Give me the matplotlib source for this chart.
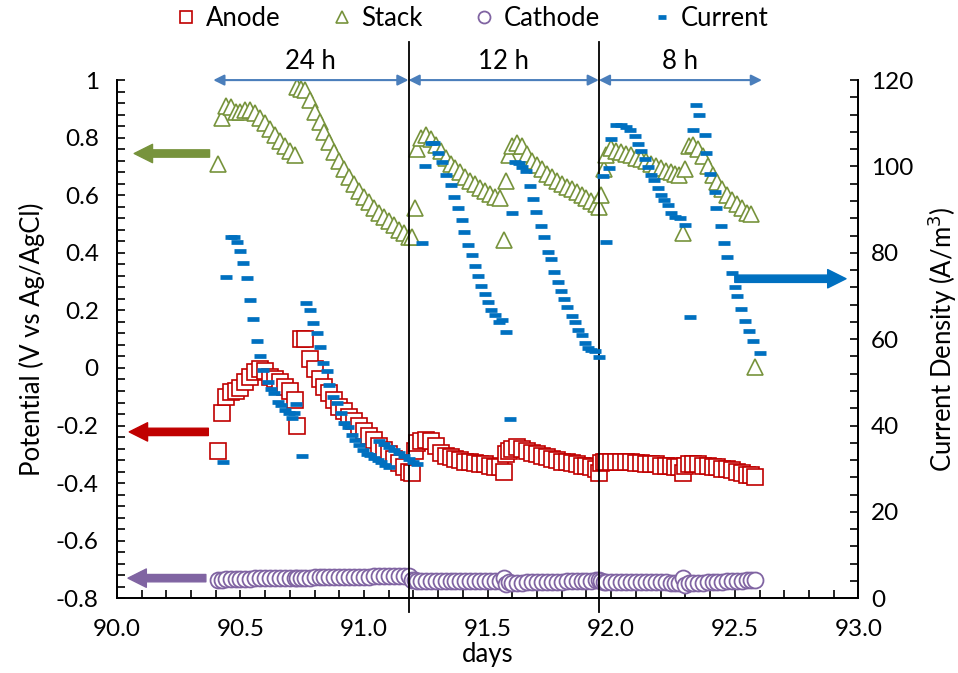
#!/usr/bin/env python3

"""Anode / stack / cathode potentials and current density over three switching periods."""

import matplotlib.pyplot as plt
from matplotlib.ticker import MultipleLocator, FuncFormatter

plt.rcParams['font.family'] = ['Lato', 'DejaVu Sans']

# time stamps (days) shared by the three potential series
pot_days = [
    90.41, 90.425, 90.44, 90.46, 90.48, 90.50, 90.52, 90.54, 90.56, 90.58, 90.60, 90.62, 90.64, 90.66, 90.68, 90.70, 90.72,
    90.73, 90.745, 90.76, 90.78, 90.80, 90.82, 90.84, 90.86, 90.88, 90.90, 90.92, 90.94, 90.96, 90.98, 91.00, 91.02,
    91.04, 91.06, 91.08, 91.10, 91.12, 91.14, 91.16, 91.18,
    91.195, 91.205, 91.215, 91.23, 91.25, 91.27, 91.29, 91.31, 91.33, 91.35, 91.37, 91.39, 91.41, 91.43, 91.45, 91.47,
    91.49, 91.51, 91.53, 91.55, 91.565,
    91.575, 91.585, 91.60, 91.62, 91.64, 91.66, 91.68, 91.70, 91.72, 91.74, 91.76, 91.78, 91.80, 91.82, 91.84, 91.86,
    91.88, 91.90, 91.92, 91.94, 91.95,
    91.96, 91.97, 91.98, 92.00, 92.02, 92.04, 92.06, 92.08, 92.10, 92.12, 92.14, 92.16, 92.18, 92.20, 92.22, 92.24,
    92.26, 92.275, 92.29,
    92.30, 92.315, 92.33, 92.35, 92.37, 92.39, 92.41, 92.43, 92.45, 92.47, 92.49, 92.51, 92.53, 92.55, 92.565, 92.58,
]

anode = [
    -0.29, -0.155, -0.10, -0.085, -0.08, -0.07, -0.05, -0.03, -0.015, -0.005, -0.01, -0.03, -0.04, -0.05, -0.065, -0.08, -0.11,
    -0.20, 0.10, 0.10, 0.03, -0.005, -0.04, -0.065, -0.087, -0.11, -0.135, -0.15, -0.17, -0.185, -0.20, -0.22, -0.235,
    -0.25, -0.27, -0.285, -0.30, -0.315, -0.33, -0.345, -0.36,
    -0.365, -0.29, -0.26, -0.255, -0.25, -0.255, -0.27, -0.295, -0.305, -0.31, -0.315, -0.32, -0.325, -0.325, -0.33, -0.335,
    -0.335, -0.34, -0.345, -0.345, -0.36,
    -0.30, -0.29, -0.28, -0.275, -0.28, -0.29, -0.295, -0.30, -0.305, -0.31, -0.315, -0.32, -0.325, -0.325, -0.33, -0.335,
    -0.34, -0.34, -0.345, -0.35, -0.365,
    -0.33, -0.325, -0.325, -0.325, -0.325, -0.325, -0.325, -0.325, -0.33, -0.33, -0.335, -0.335, -0.335, -0.34, -0.34, -0.34,
    -0.345, -0.345, -0.365,
    -0.34, -0.335, -0.335, -0.335, -0.34, -0.34, -0.345, -0.345, -0.35, -0.35, -0.355, -0.36, -0.365, -0.37, -0.37, -0.38,
]

stack = [
    0.71, 0.87, 0.91, 0.905, 0.89, 0.89, 0.895, 0.895, 0.885, 0.87, 0.85, 0.83, 0.81, 0.79, 0.77, 0.755, 0.74,
    0.975, 0.97, 0.965, 0.93, 0.89, 0.855, 0.82, 0.785, 0.75, 0.72, 0.69, 0.665, 0.64, 0.615, 0.595, 0.575,
    0.555, 0.54, 0.525, 0.51, 0.495, 0.48, 0.47, 0.455,
    0.455, 0.555, 0.76, 0.80, 0.81, 0.795, 0.775, 0.755, 0.73, 0.71, 0.695, 0.68, 0.665, 0.65, 0.64, 0.625,
    0.615, 0.605, 0.595, 0.59, 0.445,
    0.65, 0.74, 0.77, 0.78, 0.77, 0.745, 0.72, 0.705, 0.69, 0.675, 0.665, 0.65, 0.64, 0.63, 0.62, 0.61,
    0.60, 0.59, 0.58, 0.57, 0.56,
    0.60, 0.69, 0.74, 0.765, 0.755, 0.75, 0.745, 0.74, 0.73, 0.725, 0.72, 0.71, 0.70, 0.695, 0.685, 0.68,
    0.675, 0.67, 0.47,
    0.69, 0.77, 0.775, 0.76, 0.735, 0.70, 0.67, 0.645, 0.62, 0.60, 0.585, 0.57, 0.555, 0.54, 0.535, 0.005,
]

cathode = [
    -0.735, -0.735, -0.734, -0.734, -0.733, -0.733, -0.732, -0.732, -0.731, -0.731, -0.730, -0.730, -0.730, -0.729, -0.729, -0.729, -0.728,
    -0.728, -0.728, -0.728, -0.728, -0.727, -0.727, -0.727, -0.727, -0.726, -0.726, -0.726, -0.726, -0.725, -0.725, -0.725, -0.725,
    -0.724, -0.724, -0.724, -0.724, -0.724, -0.723, -0.723, -0.723,
    -0.735, -0.738, -0.739, -0.739, -0.739, -0.739, -0.739, -0.739, -0.740, -0.740, -0.740, -0.740, -0.740, -0.740, -0.740, -0.741,
    -0.741, -0.741, -0.741, -0.741, -0.730,
    -0.752, -0.745, -0.746, -0.746, -0.746, -0.745, -0.745, -0.744, -0.744, -0.743, -0.743, -0.742, -0.742, -0.741, -0.741, -0.740,
    -0.740, -0.739, -0.739, -0.738, -0.738,
    -0.740, -0.742, -0.743, -0.743, -0.743, -0.743, -0.744, -0.744, -0.744, -0.744, -0.744, -0.745, -0.745, -0.745, -0.745, -0.746,
    -0.746, -0.746, -0.730,
    -0.755, -0.748, -0.748, -0.747, -0.746, -0.745, -0.744, -0.743, -0.742, -0.741, -0.740, -0.740, -0.739, -0.738, -0.738, -0.737,
]

# current density (A/m3), right axis
cur_days = [
    90.43, 90.44, 90.46, 90.475, 90.485, 90.497, 90.51, 90.525, 90.54, 90.55, 90.565, 90.58, 90.59, 90.61, 90.625,
    90.635, 90.65, 90.665, 90.68, 90.695, 90.707, 90.715, 90.725, 90.75,
    90.765, 90.78, 90.795, 90.81, 90.82, 90.835, 90.85, 90.86, 90.875, 90.89, 90.905, 90.92, 90.935, 90.95, 90.965,
    90.98, 90.995, 91.01, 91.025, 91.04, 91.055, 91.07, 91.085, 91.10,
    91.06, 91.08, 91.10, 91.12, 91.14, 91.16, 91.18, 91.20, 91.215,
    91.235, 91.245, 91.27, 91.285, 91.30, 91.315, 91.33, 91.35, 91.365, 91.38, 91.395, 91.405, 91.42, 91.435, 91.45,
    91.46, 91.475, 91.49, 91.50, 91.515, 91.53, 91.545, 91.56, 91.575, 91.59, 91.60,
    91.61, 91.625, 91.64, 91.655, 91.67, 91.683, 91.697, 91.715, 91.73, 91.743, 91.757, 91.77, 91.783, 91.797, 91.81,
    91.823, 91.84, 91.852, 91.865, 91.88, 91.893, 91.905, 91.92, 91.935, 91.95,
    91.965, 91.98, 91.99, 92.0, 92.02, 92.04, 92.06, 92.075, 92.095, 92.107, 92.12, 92.135, 92.148, 92.16, 92.175,
    92.19, 92.20, 92.215, 92.228, 92.243, 92.257, 92.277, 92.297, 92.32,
    92.33, 92.345, 92.357, 92.378, 92.385, 92.398, 92.418, 92.425, 92.445, 92.458, 92.47, 92.487, 92.50, 92.51, 92.527,
    92.54, 92.557, 92.572, 92.60,
]

current = [
    31.5, 74.4, 83.6, 83.6, 82.5, 80.4, 77.6, 74.1, 69.0, 64.6, 59.5, 56.1, 52.8, 50.0, 48.4,
    47.5, 45.4, 44.7, 43.5, 42.8, 41.7, 43.0, 45.0, 33.0,
    68.3, 66.7, 63.7, 61.4, 58.1, 54.4, 52.6, 49.3, 46.6, 45.2, 43.0, 40.5, 39.6, 37.8, 36.6,
    35.5, 34.3, 33.5, 33.1, 32.5, 32.0, 31.5, 30.8, 30.5,
    36.5, 35.7, 35.0, 34.3, 33.6, 33.0, 32.3, 31.6, 31.0,
    82.2, 100.0, 105.4, 105.4, 103.1, 101.0, 98.0, 95.7, 92.9, 90.3, 87.6, 84.8, 81.8, 79.5, 76.9,
    74.6, 72.3, 70.4, 68.6, 66.7, 65.6, 63.9, 64.4, 61.6, 41.5, 89.2,
    101.0, 100.7, 99.9, 98.9, 95.4, 92.4, 89.4, 86.2, 83.6, 80.1, 78.5, 75.5, 73.2, 71.1, 69.3,
    67.4, 65.3, 63.9, 62.1, 60.9, 59.1, 57.9, 57.4, 57.2, 55.8,
    97.8, 82.5, 99.6, 106.3, 109.6, 109.6, 109.1, 108.4, 107.0, 105.2, 103.5, 101.7, 99.8, 98.0, 96.8,
    95.0, 93.4, 92.2, 91.0, 89.2, 88.3, 88.0, 86.4, 65.1,
    108.4, 114.2, 111.9, 107.2, 103.1, 98.2, 94.1, 90.3, 86.2, 82.2, 79.0, 75.3, 72.0, 70.0, 66.9,
    64.2, 61.8, 59.5, 56.8,
]

# operating periods marked above the plot
period_edges = [90.39, 91.18, 91.95, 92.61]
period_labels = ['24 h', '12 h', '8 h']

RED = '#C00000'
GREEN = '#77933C'
PURPLE = '#8064A2'
BLUE = '#0070C0'
LIGHTBLUE = '#4A7EBB'

fig = plt.figure(figsize=(9.58, 6.73), dpi=100)
ax = fig.add_axes([0.122, 0.111, 0.774, 0.770])
ax2 = ax.twinx()

h1, = ax.plot(pot_days, anode, 's', ms=11, mfc='white', mec=RED, mew=1.2, label='Anode')
h2, = ax.plot(pot_days, stack, '^', ms=12, mfc='white', mec=GREEN, mew=1.2, label='Stack')
h3, = ax.plot(pot_days, cathode, 'o', ms=11.5, mfc='white', mec=PURPLE, mew=1.3, label='Cathode')
h4, = ax2.plot(cur_days, current, '_', ms=8.5, mew=3.4, color=BLUE, label='Current')

ax.set_xlim(90, 93)
ax.set_ylim(-0.8, 1.0)
ax2.set_ylim(0, 120)

ax.xaxis.set_major_locator(MultipleLocator(0.5))
ax.xaxis.set_minor_locator(MultipleLocator(0.1))
ax.yaxis.set_major_locator(MultipleLocator(0.2))
ax.yaxis.set_minor_locator(MultipleLocator(0.04))
ax2.yaxis.set_major_locator(MultipleLocator(20))
ax2.yaxis.set_minor_locator(MultipleLocator(4))
ax.xaxis.set_major_formatter(FuncFormatter(lambda v, p: f'{v:.1f}'))
ax.yaxis.set_major_formatter(FuncFormatter(lambda v, p: f'{round(v, 2):g}' if abs(v) > 1e-9 else '0'))

for a in (ax, ax2):
    a.spines['top'].set_visible(False)
    for s in a.spines.values():
        s.set_linewidth(1.3)
    a.tick_params(which='both', direction='in', length=6, width=1.2, labelsize=17.5, top=False)
ax.tick_params(which='both', right=False)
ax.tick_params(axis='x', pad=15)
ax.tick_params(axis='y', pad=13)
ax2.tick_params(axis='y', pad=9)

ax.set_xlabel('days', fontsize=18.5, labelpad=1)
ax.set_ylabel('Potential (V vs Ag/AgCl)', fontsize=18.5, labelpad=8)
ax2.set_ylabel('Current Density (A/m$^3$)', fontsize=18.5, labelpad=9)

# switching lines, running past the plot area
for x in period_edges[1:3]:
    ax.plot([x, x], [-0.848, 1.133], color='black', lw=1.3, clip_on=False, zorder=5)

# period arrows and labels
for i, lab in enumerate(period_labels):
    x0, x1 = period_edges[i], period_edges[i + 1]
    ax.annotate('', xy=(x0, 1.0), xytext=(x1, 1.0),
                arrowprops=dict(arrowstyle='<|-|>', color=LIGHTBLUE, lw=1.5,
                                mutation_scale=16, shrinkA=0, shrinkB=0),
                annotation_clip=False)
    ax.text((x0 + x1) / 2, 1.065, lab, ha='center', va='center', fontsize=18.5)

# axis pointers
arrow_style = 'simple,head_length=0.6,head_width=0.6,tail_width=0.24'
ax.annotate('', xy=(90.07, 0.745), xytext=(90.375, 0.745),
            arrowprops=dict(arrowstyle=arrow_style, color=GREEN, mutation_scale=22, shrinkA=0, shrinkB=0))
ax.annotate('', xy=(90.05, -0.222), xytext=(90.37, -0.222),
            arrowprops=dict(arrowstyle=arrow_style, color=RED, mutation_scale=22, shrinkA=0, shrinkB=0))
ax.annotate('', xy=(90.045, -0.73), xytext=(90.36, -0.73),
            arrowprops=dict(arrowstyle=arrow_style, color=PURPLE, mutation_scale=22, shrinkA=0, shrinkB=0))
ax2.annotate('', xy=(92.95, 74), xytext=(92.5, 74),
             arrowprops=dict(arrowstyle=arrow_style, color=BLUE, mutation_scale=22, shrinkA=0, shrinkB=0))

fig.legend([h1, h2, h3, h4], ['Anode', 'Stack', 'Cathode', 'Current'],
           loc='center', bbox_to_anchor=(0.493, 0.972), ncol=4, frameon=False, fontsize=18.5,
           handlelength=0.8, handletextpad=0.35, columnspacing=2.0, markerscale=0.75)

fig.savefig('out.png', dpi=100)
